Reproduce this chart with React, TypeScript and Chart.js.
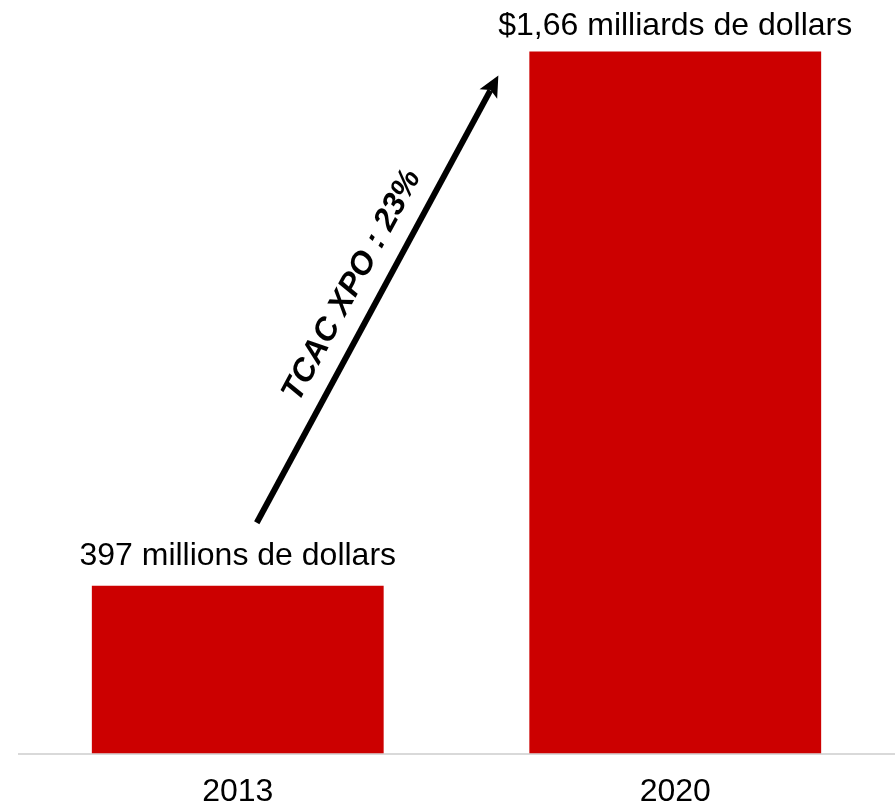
import React, { useEffect, useRef } from 'react';
import { Chart, registerables } from 'chart.js';

Chart.register(...registerables);

// ---- data ----
const categories = ['2013', '2020'];
const values = [397, 1660]; // millions de dollars
const valueLabels = ['397 millions de dollars', '$1,66 milliards de dollars'];
const cagrLabel = 'TCAC XPO : 23%';
const yMax = 1782;

// ---- style ----
const FONT = "'Liberation Sans', Arial, Helvetica, sans-serif";
const BAR_COLOR = '#CC0000';
const LABEL_GAP = [21, 17];

const overlayPlugin = {
  id: 'overlay',
  afterDatasetsDraw(chart: any) {
    const ctx = chart.ctx as CanvasRenderingContext2D;
    const bars = chart.getDatasetMeta(0).data as any[];
    if (!bars || bars.length < 2) return;
    ctx.save();
    ctx.fillStyle = '#000';
    ctx.font = `32px ${FONT}`;
    ctx.textAlign = 'center';
    ctx.textBaseline = 'alphabetic';
    bars.forEach((bar, i) => {
      ctx.fillText(valueLabels[i], bar.x, bar.y - LABEL_GAP[i]);
    });

    // arrow
    const b1 = bars[0];
    const b2 = bars[1];
    const sx = b1.x + 19;
    const sy = b1.y - 63;
    const ex = b2.x - b2.width / 2 - 31;
    const ey = b2.y + 24;
    const ang = Math.atan2(ey - sy, ex - sx);
    const ux = Math.cos(ang);
    const uy = Math.sin(ang);
    const nx = -uy;
    const ny = ux;
    const headLen = 21;
    const headHalf = 10;
    ctx.strokeStyle = '#000';
    ctx.lineWidth = 6;
    ctx.lineCap = 'butt';
    ctx.beginPath();
    ctx.moveTo(sx, sy);
    ctx.lineTo(ex - ux * headLen * 0.8, ey - uy * headLen * 0.8);
    ctx.stroke();
    const bx = ex - ux * headLen;
    const by = ey - uy * headLen;
    ctx.beginPath();
    ctx.moveTo(ex, ey);
    ctx.lineTo(bx + nx * headHalf, by + ny * headHalf);
    ctx.lineTo(ex - ux * headLen * 0.78, ey - uy * headLen * 0.78);
    ctx.lineTo(bx - nx * headHalf, by - ny * headHalf);
    ctx.closePath();
    ctx.fill();

    // rotated CAGR text
    const mx = (sx + ex) / 2;
    const my = (sy + ey) / 2;
    const vx = uy; // perpendicular toward upper-left
    const vy = -ux;
    const off = 29;
    ctx.translate(mx + vx * off, my + vy * off);
    ctx.rotate(ang);
    ctx.font = `italic bold 32px ${FONT}`;
    ctx.textAlign = 'center';
    ctx.textBaseline = 'middle';
    ctx.fillText(cagrLabel, 0, 0);
    ctx.restore();
  },
};

export default function App() {
  const canvasRef = useRef<HTMLCanvasElement | null>(null);

  useEffect(() => {
    if (!canvasRef.current) return;
    const chart = new Chart(canvasRef.current, {
      type: 'bar',
      data: {
        labels: categories,
        datasets: [
          {
            data: values,
            backgroundColor: BAR_COLOR,
            borderWidth: 0,
            barPercentage: 0.667,
            categoryPercentage: 1,
          },
        ],
      },
      options: {
        responsive: false,
        animation: false,
        devicePixelRatio: 1,
        layout: { padding: { left: 19, right: 1, top: 0, bottom: 0 } },
        plugins: {
          legend: { display: false },
          tooltip: { enabled: false },
        },
        scales: {
          x: {
            grid: { display: false, drawTicks: false },
            border: { display: true, color: '#D9D9D9', width: 2 },
            ticks: {
              color: '#000',
              padding: 19,
              font: { family: FONT, size: 32 },
            },
          },
          y: {
            display: false,
            min: 0,
            max: yMax,
          },
        },
      },
      plugins: [overlayPlugin],
    });
    return () => chart.destroy();
  }, []);

  return (
    <div
      style={{
        position: 'fixed',
        left: 0,
        top: 0,
        width: 895,
        height: 809,
        overflow: 'hidden',
        background: '#fff',
      }}
    >
      <canvas ref={canvasRef} width={895} height={830} style={{ display: 'block' }} />
    </div>
  );
}
